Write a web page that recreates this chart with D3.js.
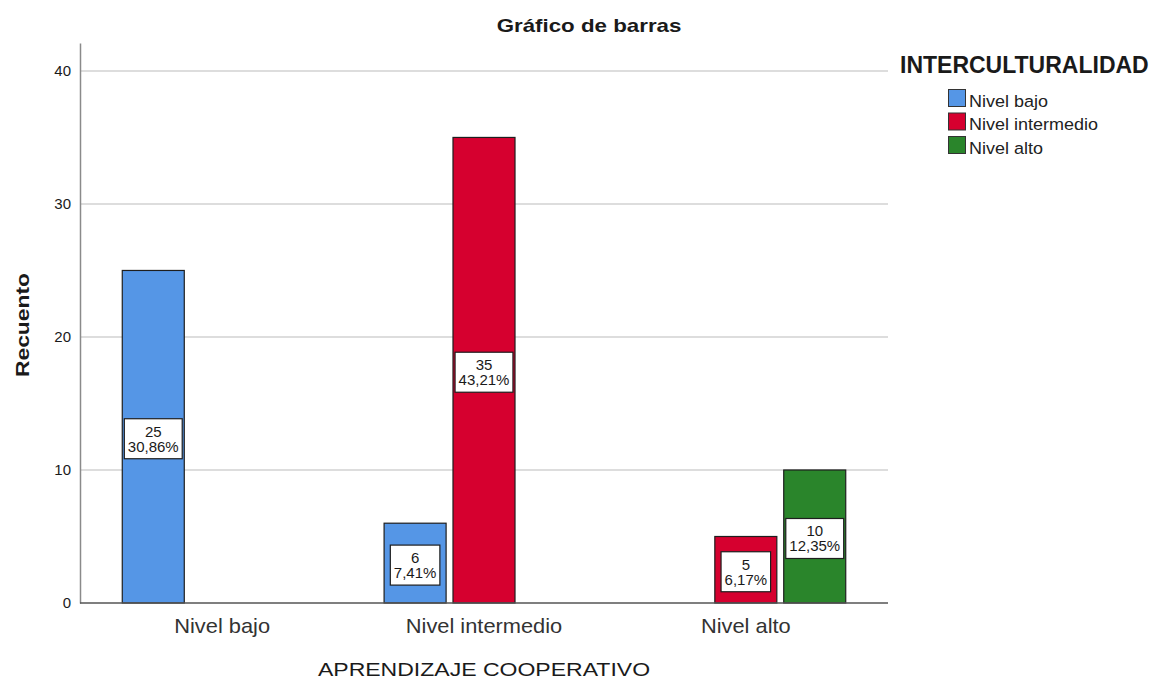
<!DOCTYPE html>
<html>
<head>
<meta charset="utf-8">
<title>Gráfico de barras</title>
<script src="https://cdn.jsdelivr.net/npm/d3@7"></script>
<style>
    body { margin: 0; background: #fff; }
    text { font-family: "Liberation Sans", Arial, sans-serif; fill: #1a1a1a; }
</style>
</head>
<body>
<svg id="chart" width="1151" height="680"></svg>
<script>
    // data
    var groups = ["Nivel bajo", "Nivel intermedio", "Nivel alto"];
    var series = ["Nivel bajo", "Nivel intermedio", "Nivel alto"];
    var colors = ["#5596e6", "#d6002f", "#2a852b"];
    var counts = [
        [25, 0, 0],   // Nivel bajo
        [6, 35, 0],   // Nivel intermedio
        [0, 5, 10]    // Nivel alto
    ];
    var percents = [
        ["30,86%", "", ""],
        ["7,41%", "43,21%", ""],
        ["", "6,17%", "12,35%"]
    ];
    var yTicks = [0, 10, 20, 30, 40];

    var svg = d3.select("#chart");
    var mLeft = 80, mRight = 888, mTop = 43, mBottom = 603;

    var x0 = d3.scaleBand().domain(groups).range([mLeft, mRight]).paddingInner(0).paddingOuter(0.043);
    var x1 = d3.scaleBand().domain(series).range([0, x0.bandwidth()]).paddingInner(0.1).paddingOuter(0.45);
    var y = d3.scaleLinear().domain([0, 42.1]).range([mBottom, mTop]);

    // text stretched sideways, SPSS fonts render wider than Liberation
    function label(sel, x, yy, sx, rot) {
        return sel.append("text")
            .attr("transform", "translate(" + x + "," + yy + ")" + (rot ? " rotate(" + rot + ")" : "") + " scale(" + sx + ",1)");
    }

    // grid lines
    svg.append("g").selectAll("line")
        .data(yTicks.filter(function(d) { return d > 0; }))
        .enter().append("line")
        .attr("x1", mLeft).attr("x2", mRight)
        .attr("y1", function(d) { return y(d); })
        .attr("y2", function(d) { return y(d); })
        .style("stroke", "#d2d2d2").style("stroke-width", 1.5);

    // y axis
    var yAxis = svg.append("g")
        .attr("transform", "translate(" + mLeft + ",0)")
        .call(d3.axisLeft(y).tickValues(yTicks).tickSize(0).tickPadding(9));
    yAxis.select(".domain").style("stroke", "#8a8a8a").style("stroke-width", 1.5);
    yAxis.selectAll("text").style("font-size", "15px").style("font-family", "Liberation Sans, Arial, sans-serif").attr("fill", "#1a1a1a");

    // bars
    var cells = [];
    groups.forEach(function(g, i) {
        series.forEach(function(s, j) {
            if (counts[i][j] > 0) cells.push({ g: g, s: s, j: j, v: counts[i][j], p: percents[i][j] });
        });
    });

    svg.append("g").selectAll("rect")
        .data(cells)
        .enter().append("rect")
        .attr("x", function(d) { return x0(d.g) + x1(d.s); })
        .attr("y", function(d) { return y(d.v); })
        .attr("width", x1.bandwidth())
        .attr("height", function(d) { return y(0) - y(d.v); })
        .style("fill", function(d) { return colors[d.j]; })
        .style("stroke", "#1e1e1e").style("stroke-width", 1.2);

    // x baseline
    svg.append("line")
        .attr("x1", mLeft).attr("x2", mRight).attr("y1", mBottom).attr("y2", mBottom)
        .style("stroke", "#555").style("stroke-width", 1.5);

    // value labels
    var lab = svg.append("g").selectAll("g")
        .data(cells)
        .enter().append("g")
        .attr("transform", function(d) {
            return "translate(" + (x0(d.g) + x1(d.s) + x1.bandwidth() / 2) + "," + (y(d.v / 2) + 2) + ")";
        });
    lab.each(function(d) {
        var g = d3.select(this);
        var box = g.append("rect").style("fill", "#fff").style("stroke", "#1e1e1e").style("stroke-width", 1.2);
        var t1 = g.append("text").attr("text-anchor", "middle").attr("y", -2).style("font-size", "15px").text(d.v);
        var t2 = g.append("text").attr("text-anchor", "middle").attr("y", 13).style("font-size", "15px").text(d.p);
        var w = Math.min(Math.max(t1.node().getComputedTextLength(), t2.node().getComputedTextLength()) + 7, x1.bandwidth() - 3);
        box.attr("x", -w / 2).attr("y", -20).attr("width", w).attr("height", 40);
    });

    // x tick labels
    svg.append("g").selectAll("text")
        .data(groups)
        .enter().append("text")
        .attr("transform", function(d) { return "translate(" + (x0(d) + x0.bandwidth() / 2) + ",633) scale(1.04,1)"; })
        .attr("text-anchor", "middle")
        .style("font-size", "21px").style("fill", "#333")
        .text(function(d) { return d; });

    // titles
    label(svg, 589, 32, 1.24).attr("text-anchor", "middle")
        .style("font-size", "18px").style("font-weight", "bold").text("Gráfico de barras");
    label(svg, 484, 676, 1.28).attr("text-anchor", "middle")
        .style("font-size", "18px").text("APRENDIZAJE COOPERATIVO");
    label(svg, 29, 325, 1.27, -90).attr("text-anchor", "middle")
        .style("font-size", "18px").style("font-weight", "bold").text("Recuento");

    // legend
    svg.append("text").attr("x", 900).attr("y", 73)
        .style("font-size", "23px").style("font-weight", "bold").text("INTERCULTURALIDAD");
    var leg = svg.append("g").selectAll("g")
        .data(series)
        .enter().append("g")
        .attr("transform", function(d, i) { return "translate(948.5," + (89.5 + i * 23.5) + ")"; });
    leg.append("rect").attr("width", 17).attr("height", 17)
        .style("fill", function(d, i) { return colors[i]; })
        .style("stroke", "#333").style("stroke-width", 1);
    leg.append("text").attr("transform", "translate(20.5,17) scale(1.09,1)")
        .style("font-size", "16.5px").style("fill", "#222")
        .text(function(d) { return d; });
</script>
</body>
</html>
